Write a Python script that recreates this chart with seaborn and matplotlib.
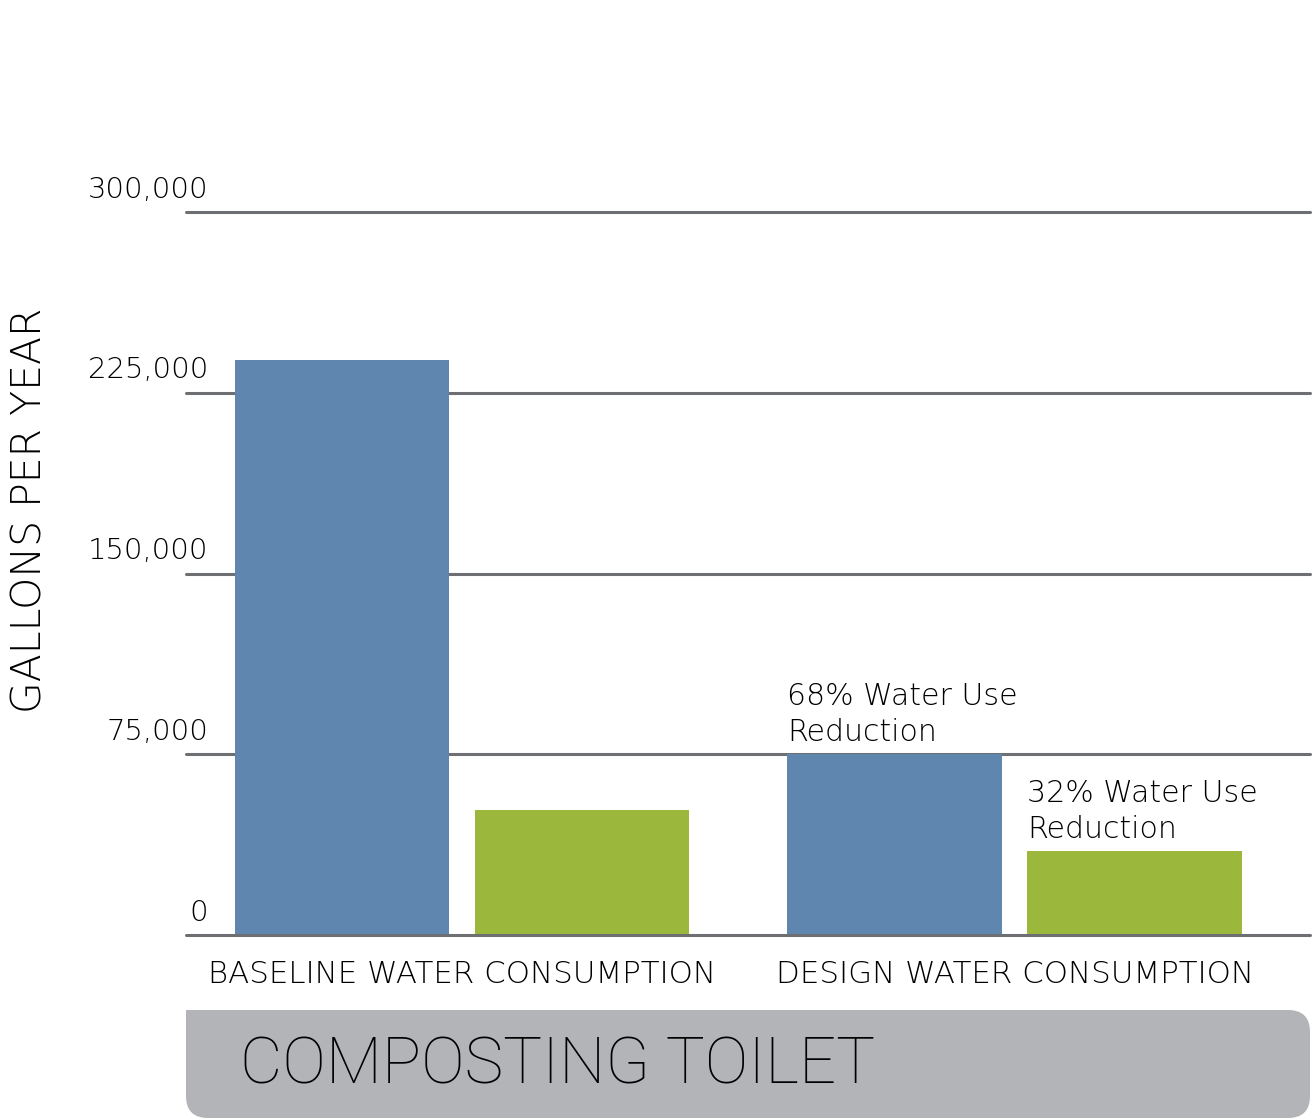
import pandas as pd
import seaborn as sns
import matplotlib.pyplot as plt
from matplotlib.patches import FancyBboxPatch, Rectangle


# dados
categorias = ['BASELINE WATER CONSUMPTION', 'DESIGN WATER CONSUMPTION']
series = ['Series 1', 'Series 2']
valores_serie1 = [238700, 75000]
valores_serie2 = [51800, 34800]
rotulos_y = ['0', '75,000', '150,000', '225,000', '300,000']
ticks_y = [0, 75000, 150000, 225000, 300000]
anotacoes = ['68% Water Use\nReduction', '32% Water Use\nReduction']
titulo = 'COMPOSTING TOILET'
ylabel = 'GALLONS PER YEAR'

cores = ['#5f86ae', '#9cb83c']
cor_grade = '#6d6f73'
cor_texto = '#000000'

df = pd.DataFrame({
    'categoria': categorias * 2,
    'serie': [series[0]] * 2 + [series[1]] * 2,
    'galoes': valores_serie1 + valores_serie2,
})

sns.set_theme(style='white')
plt.rcParams['font.family'] = ['DejaVu Sans']
fonte = dict(family=['DejaVu Sans'], fontweight='light', color=cor_texto)

W, H = 1316, 1118
fig = plt.figure(figsize=(W / 100, H / 100), dpi=100)
ax = fig.add_axes([186 / W, (H - 935) / H, (1310 - 186) / W, (935 - 212) / H])

sns.barplot(data=df, x='categoria', y='galoes', hue='serie', palette=cores,
            width=0.87, gap=0.108, saturation=1, legend=False, ax=ax,
            linewidth=0, edgecolor='none', zorder=3)

ax.set_ylim(0, 300000)
ax.set_xlim(-0.5, 1.535)
ax.set_yticks(ticks_y)
ax.set_yticklabels([])
ax.tick_params(axis='both', length=0)
for s in ax.spines.values():
    s.set_visible(False)

# linhas de grade
for t in ticks_y:
    ax.axhline(t, color=cor_grade, lw=2.2, zorder=2 if t else 4, clip_on=False)

# rótulos do eixo y acima das linhas
for t, r in zip(ticks_y, rotulos_y):
    ax.annotate(r, (0, t), xycoords=('axes fraction', 'data'), xytext=(16, 6),
                textcoords='offset points', ha='right', va='bottom',
                fontsize=21, **fonte)

ax.set_xlabel('')
ax.set_ylabel('')
ax.set_xticks([0, 1])
ax.set_xticklabels(categorias, fontsize=22.2, **fonte)
ax.tick_params(axis='x', pad=18)

fig.text(30 / W, (H - 510) / H, ylabel, rotation=90, ha='center', va='center',
         fontsize=29.5, **fonte)

# anotações na segunda categoria
barras = ax.patches
for p, txt in zip([barras[1], barras[3]], anotacoes):
    ax.annotate(txt, (p.get_x(), p.get_height()), xytext=(0, 5),
                textcoords='offset points', ha='left', va='bottom',
                fontsize=21.6, linespacing=1.3, **fonte)

# caixa do título (em polegadas)
caixa = FancyBboxPatch((1.86, 0.0), 11.24, 1.08,
                       boxstyle='round,pad=0,rounding_size=0.22', transform=fig.dpi_scale_trans,
                       facecolor='#b3b4b7', edgecolor='none', zorder=0)
fig.patches.append(caixa)
fig.patches.append(Rectangle((1.86, 0.8), 0.4, 0.28, transform=fig.dpi_scale_trans,
                             facecolor='#b3b4b7', edgecolor='none', zorder=0))
fig.text(240 / W, (H - 1066) / H, titulo, ha='left', va='center', fontsize=47,
         family=['Roboto', 'DejaVu Sans'], fontweight='light', color='black')

plt.savefig('out.png', dpi=100)
